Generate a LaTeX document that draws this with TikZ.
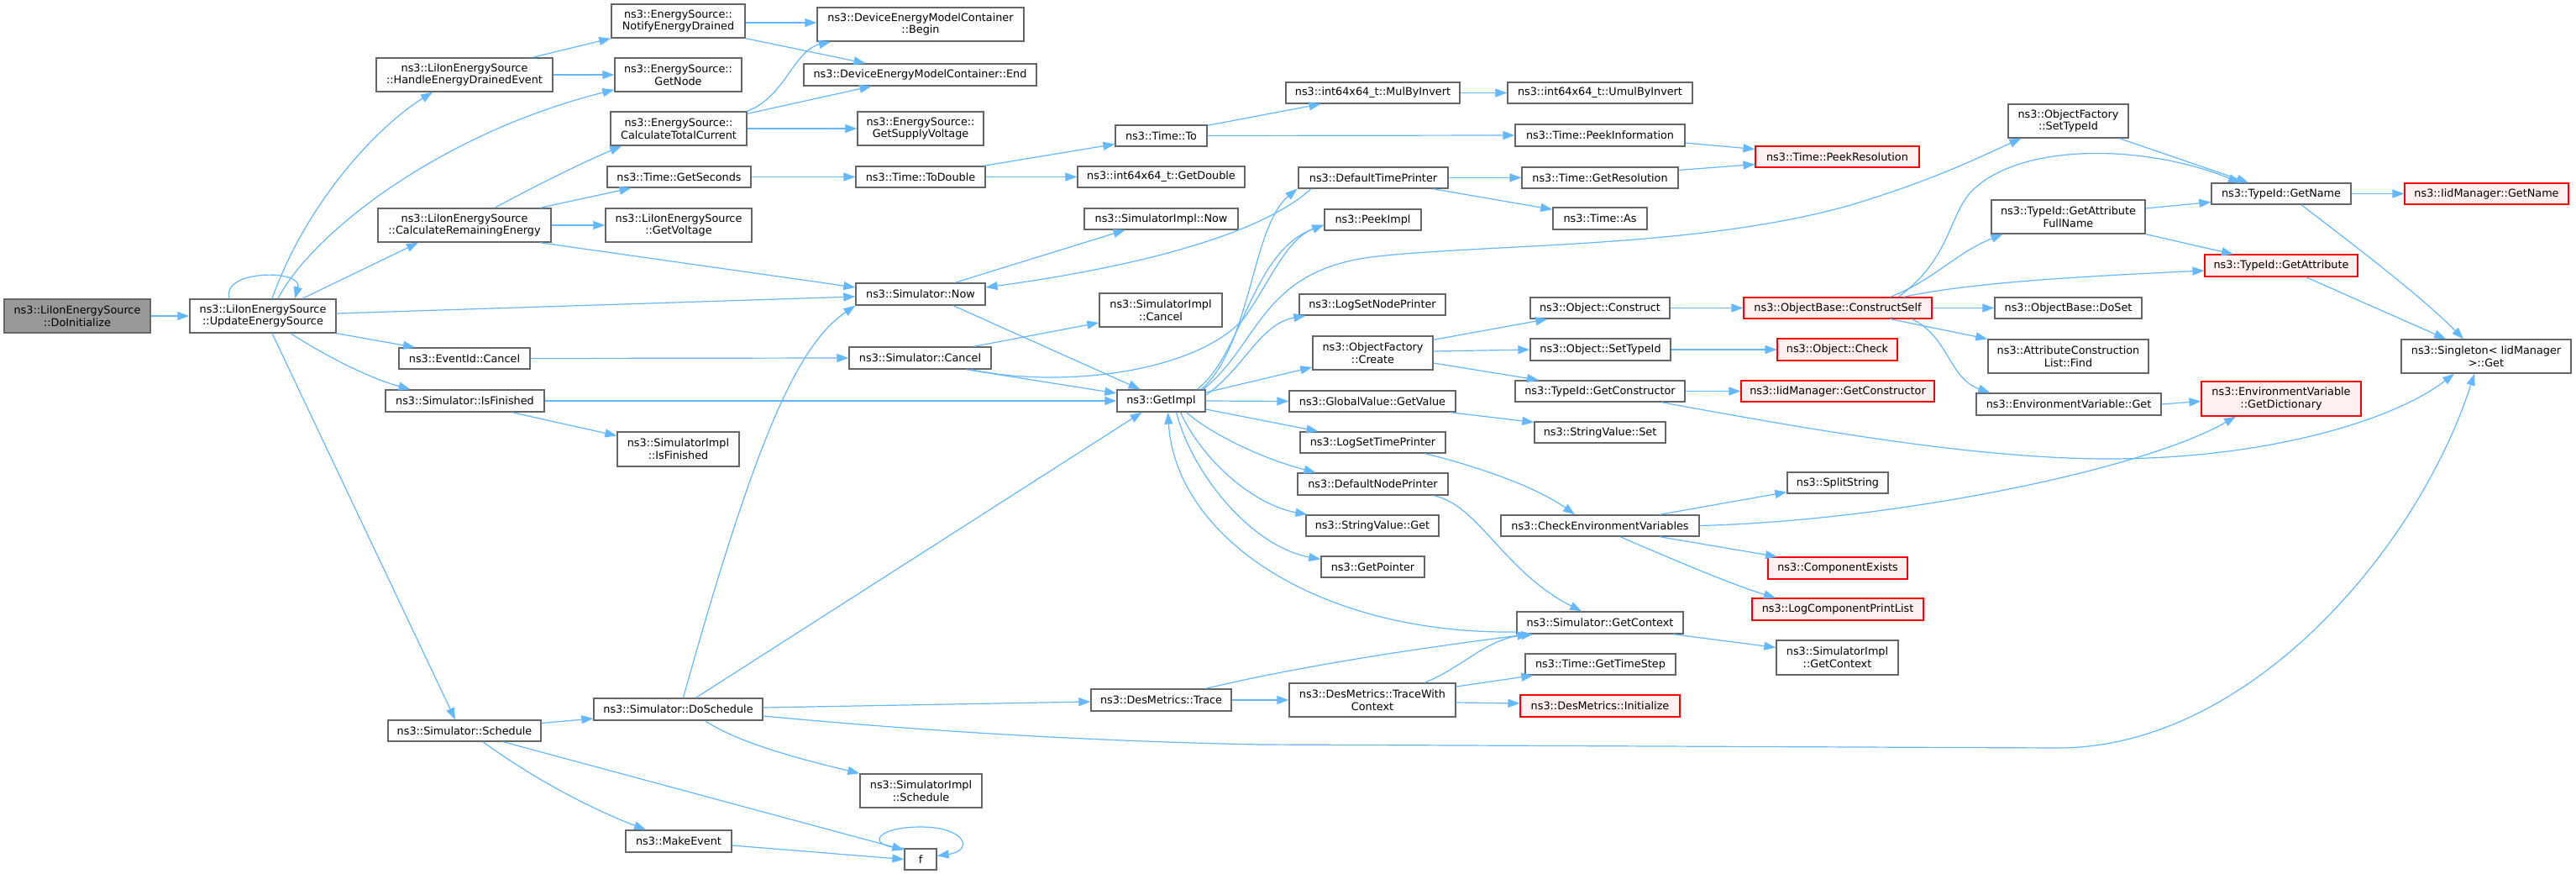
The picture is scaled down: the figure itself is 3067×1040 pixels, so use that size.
\documentclass[tikz,border=0pt]{standalone}
\usepackage{fontspec}
\setmainfont{DejaVu Sans}
\usetikzlibrary{arrows.meta}
\definecolor{edgeblue}{HTML}{63B8FF}
\definecolor{nodeline}{HTML}{666666}
\definecolor{redline}{HTML}{FF0000}
\definecolor{redfill}{HTML}{FFF0F0}
\definecolor{grayfill}{HTML}{999999}
\tikzset{
  box/.style={draw=nodeline,fill=white,line width=1.4pt,inner sep=0pt,align=center,
    font=\fontsize{12.8pt}{14.7pt}\selectfont},
  redbox/.style={draw=redline,fill=redfill,line width=1.1pt},
  startbox/.style={fill=grayfill},
  cl/.style={draw=edgeblue,line width=1.2pt,-{Triangle[length=14pt,width=10pt]}}
}
\newcommand\bx[7][]{\node[box,#1,minimum width=#5pt-#3pt,minimum height=#6pt-#4pt] (#2) at ({(#3+#5)/2},{(#4+#6)/2}) {#7};}
\begin{document}
\begin{tikzpicture}[x=1pt,y=-1pt]
\useasboundingbox (0,0) rectangle (3067,1040);
\fill[white] (0,0) rectangle (3067,1040);
% nodes
\bx[startbox]{doinit}{5}{356}{179}{396}{ns3::LiIonEnergySource\\::DoInitialize}
\bx{upd}{226}{356}{400}{396}{ns3::LiIonEnergySource\\::UpdateEnergySource}
\bx{handle}{448}{69}{658}{109}{ns3::LiIonEnergySource\\::HandleEnergyDrainedEvent}
\bx{calcrem}{450}{248}{656}{288}{ns3::LiIonEnergySource\\::CalculateRemainingEnergy}
\bx{evcancel}{475}{414}{631}{439}{ns3::EventId::Cancel}
\bx{isfin}{459}{464}{648}{490}{ns3::Simulator::IsFinished}
\bx{sched}{462}{857}{644}{882}{ns3::Simulator::Schedule}
\bx{notify}{728}{5}{887}{45}{ns3::EnergySource::\\NotifyEnergyDrained}
\bx{getnode}{732}{69}{883}{109}{ns3::EnergySource::\\GetNode}
\bx{calctot}{727}{133}{889}{173}{ns3::EnergySource::\\CalculateTotalCurrent}
\bx{getsec}{723}{198}{894}{223}{ns3::Time::GetSeconds}
\bx{getvolt}{721}{248}{895}{288}{ns3::LiIonEnergySource\\::GetVoltage}
\bx{simnow}{1019}{337}{1173}{363}{ns3::Simulator::Now}
\bx{simcancel}{1011}{413}{1180}{439}{ns3::Simulator::Cancel}
\bx{implisfin}{735}{514}{880}{555}{ns3::SimulatorImpl\\::IsFinished}
\bx{dosched}{707}{831}{908}{857}{ns3::Simulator::DoSchedule}
\bx{makeev}{745}{988}{871}{1014}{ns3::MakeEvent}
\bx{fnode}{1077}{1010}{1115}{1035}{f}
\bx{implsched}{1024}{921}{1169}{961}{ns3::SimulatorImpl\\::Schedule}
\bx{demcbegin}{973}{9}{1219}{49}{ns3::DeviceEnergyModelContainer\\::Begin}
\bx{demcend}{957}{76}{1234}{102}{ns3::DeviceEnergyModelContainer::End}
\bx{supvolt}{1021}{133}{1171}{173}{ns3::EnergySource::\\GetSupplyVoltage}
\bx{todouble}{1019}{198}{1173}{223}{ns3::Time::ToDouble}
\bx{timeto}{1328}{149}{1437}{174}{ns3::Time::To}
\bx{getdouble}{1283}{198}{1482}{223}{ns3::int64x64\_t::GetDouble}
\bx{implnow}{1291}{248}{1474}{273}{ns3::SimulatorImpl::Now}
\bx{implcancel}{1309}{349}{1455}{389}{ns3::SimulatorImpl\\::Cancel}
\bx{getimpl}{1330}{464}{1435}{490}{ns3::GetImpl}
\bx{trace}{1299}{820}{1466}{846}{ns3::DesMetrics::Trace}
\bx{mulinv}{1531}{98}{1738}{123}{ns3::int64x64\_t::MulByInvert}
\bx{umulinv}{1795}{98}{2015}{123}{ns3::int64x64\_t::UmulByInvert}
\bx{peekinfo}{1804}{148}{2006}{174}{ns3::Time::PeekInformation}
\bx[redbox]{peekres}{2090}{174}{2285}{199}{ns3::Time::PeekResolution}
\bx{deftp}{1546}{199}{1724}{224}{ns3::DefaultTimePrinter}
\bx{getres}{1812}{199}{1998}{224}{ns3::Time::GetResolution}
\bx{timeas}{1849}{247}{1961}{273}{ns3::Time::As}
\bx{peekimpl}{1577}{249}{1692}{274}{ns3::PeekImpl}
\bx{logsnp}{1547}{350}{1721}{375}{ns3::LogSetNodePrinter}
\bx{ofcreate}{1563}{400}{1706}{440}{ns3::ObjectFactory\\::Create}
\bx{gvget}{1535}{465}{1733}{490}{ns3::GlobalValue::GetValue}
\bx{logstp}{1548}{514}{1721}{539}{ns3::LogSetTimePrinter}
\bx{defnp}{1545}{563}{1724}{589}{ns3::DefaultNodePrinter}
\bx{svget}{1555}{613}{1713}{638}{ns3::StringValue::Get}
\bx{getptr}{1573}{662}{1696}{687}{ns3::GetPointer}
\bx{objconstruct}{1822}{354}{1988}{379}{ns3::Object::Construct}
\bx{objsettid}{1822}{403}{1989}{429}{ns3::Object::SetTypeId}
\bx{getctor}{1804}{453}{2006}{478}{ns3::TypeId::GetConstructor}
\bx{svset}{1827}{502}{1983}{527}{ns3::StringValue::Set}
\bx{checkenv}{1787}{613}{2023}{638}{ns3::CheckEnvironmentVariables}
\bx[redbox]{constructself}{2076}{354}{2300}{379}{ns3::ObjectBase::ConstructSelf}
\bx[redbox]{objcheck}{2116}{403}{2259}{429}{ns3::Object::Check}
\bx[redbox]{iidgetctor}{2073}{453}{2303}{478}{ns3::IidManager::GetConstructor}
\bx{splitstr}{2128}{562}{2248}{587}{ns3::SplitString}
\bx[redbox]{compexists}{2105}{663}{2271}{689}{ns3::ComponentExists}
\bx[redbox]{logcpl}{2086}{712}{2290}{738}{ns3::LogComponentPrintList}
\bx{simgetctx}{1806}{728}{2004}{754}{ns3::Simulator::GetContext}
\bx{implgetctx}{2115}{762}{2260}{803}{ns3::SimulatorImpl\\::GetContext}
\bx{timestep}{1816}{778}{1995}{803}{ns3::Time::GetTimeStep}
\bx{tracectx}{1535}{813}{1733}{853}{ns3::DesMetrics::TraceWith\\Context}
\bx[redbox]{desinit}{1810}{827}{2000}{853}{ns3::DesMetrics::Initialize}
\bx{ofsettid}{2391}{124}{2534}{164}{ns3::ObjectFactory\\::SetTypeId}
\bx{tidgetname}{2633}{218}{2799}{243}{ns3::TypeId::GetName}
\bx[redbox]{iidgetname}{2863}{218}{3058}{243}{ns3::IidManager::GetName}
\bx{getattrfull}{2371}{238}{2554}{278}{ns3::TypeId::GetAttribute\\FullName}
\bx[redbox]{getattr}{2625}{303}{2807}{329}{ns3::TypeId::GetAttribute}
\bx{doset}{2375}{354}{2550}{379}{ns3::ObjectBase::DoSet}
\bx{aclfind}{2367}{404}{2558}{444}{ns3::AttributeConstruction\\List::Find}
\bx{envget}{2353}{468}{2573}{494}{ns3::EnvironmentVariable::Get}
\bx[redbox]{getdict}{2621}{454}{2811}{495}{ns3::EnvironmentVariable\\::GetDictionary}
\bx{singleton}{2859}{404}{3061}{444}{ns3::Singleton< IidManager\\ >::Get}
% edges
\draw[cl] (doinit.east) -- (upd.west);
\draw[cl] ([xshift=-40]upd.north) .. controls +(-10,-35) and +(10,-35) .. ([xshift=38]upd.north);
\draw[cl] ([xshift=11]upd.north) .. controls (365,240) and (450,150) .. ([xshift=-38]handle.south);
\draw[cl] ([xshift=18]upd.north) .. controls (370,280) and (520,160) .. ([yshift=3]getnode.south west);
\draw[cl] ([xshift=47]upd.north) -- ([xshift=-55]calcrem.south);
\draw[cl] ([yshift=3]upd.east) -- ([yshift=-3]simnow.west);
\draw[cl] (upd.south east) -- ([xshift=-59]evcancel.north);
\draw[cl] ([xshift=33]upd.south) .. controls (390,425) and (440,450) .. ([xshift=-65]isfin.north);
\draw[cl] ([xshift=11]upd.south) -- ([xshift=-11]sched.north);
\draw[cl] ([xshift=81]handle.north) -- (notify.south west);
\draw[cl] (handle.east) -- (getnode.west);
\draw[cl] ([xshift=36]calcrem.north) .. controls (630,225) and (690,195) .. ([xshift=-68]calctot.south);
\draw[cl] ([xshift=90]calcrem.north) -- ([xshift=-57]getsec.south);
\draw[cl] (calcrem.east) -- (getvolt.west);
\draw[cl] ([xshift=90]calcrem.south) -- ([yshift=8]simnow.west);
\draw[cl] ([yshift=-2]notify.east) -- ([yshift=2]demcbegin.west);
\draw[cl] (notify.south east) -- ([xshift=-65]demcend.north);
\draw[cl] (calctot.north east) .. controls (935,115) and (945,60) .. ([xshift=-107]demcbegin.south);
\draw[cl] ([yshift=-3]calctot.north east) -- ([xshift=-58]demcend.south);
\draw[cl] (calctot.east) -- (supvolt.west);
\draw[cl] (getsec.east) -- (todouble.west);
\draw[cl] ([xshift=75]todouble.north) -- ([yshift=-10]timeto.west);
\draw[cl] (todouble.east) -- (getdouble.west);
\draw[cl] ([yshift=-1]timeto.north east) -- ([xshift=-62]mulinv.south);
\draw[cl] (timeto.east) -- (peekinfo.west);
\draw[cl] (mulinv.east) -- (umulinv.west);
\draw[cl] ([yshift=-9]peekinfo.east) -- ([yshift=9]peekres.west);
\draw[cl] ([yshift=9]getres.east) -- ([yshift=-9]peekres.west);
\draw[cl] (deftp.east) -- (getres.west);
\draw[cl] ([xshift=71]deftp.south) -- ([yshift=-3]timeas.north west);
\draw[cl] ([xshift=-74]deftp.south) .. controls (1500,280) and (1350,318) .. ([yshift=8]simnow.east);
\draw[cl] ([xshift=41]simnow.north) -- ([xshift=-43]implnow.south);
\draw[cl] ([xshift=39]simnow.south) -- ([xshift=-25]getimpl.north);
\draw[cl] (evcancel.east) -- (simcancel.west);
\draw[cl] ([xshift=64]simcancel.north) -- ([yshift=-15]implcancel.west);
\draw[cl] ([xshift=55]simcancel.south) -- ([yshift=9]getimpl.west);
\draw[cl] ([xshift=60]simcancel.south) .. controls (1260,462) and (1420,445) .. (1480,380) .. controls (1510,340) and (1530,285) .. ([yshift=-6]peekimpl.west);
\draw[cl] (isfin.east) -- (getimpl.west);
\draw[cl] ([xshift=56]isfin.south) -- ([yshift=16]implisfin.west);
\draw[cl] ([yshift=9]sched.east) -- ([yshift=-11]dosched.west);
\draw[cl] ([xshift=22]sched.south) .. controls (640,930) and (710,965) .. ([xshift=-39]makeev.north);
\draw[cl] ([xshift=46]sched.south) -- ([yshift=-2]fnode.north west);
\draw[cl] ([yshift=-5]makeev.east) -- (fnode.west);
\draw[cl] (fnode.north west) .. controls (1030,1008) and (1040,984) .. (1096,984) .. controls (1150,984) and (1160,1012) .. ([yshift=4]fnode.east);
\draw[cl] ([xshift=6]dosched.north) .. controls (900,520) and (950,410) .. (simnow.south west);
\draw[cl] ([xshift=21]dosched.north) -- ([xshift=-23]getimpl.south);
\draw[cl] ([yshift=2]dosched.east) -- ([yshift=-2]trace.west);
\draw[cl] ([xshift=32]dosched.south) .. controls (880,885) and (960,905) .. (implsched.north west);
\draw[cl] ([yshift=-8]dosched.east) .. controls (1100,870) and (1300,882) .. (1500,886) -- (2450,890) .. controls (2680,890) and (2880,650) .. ([xshift=-14]singleton.south);
\draw[cl] ([xshift=53]trace.north) .. controls (1560,790) and (1700,770) .. ([xshift=15]simgetctx.south west);
\draw[cl] (trace.east) -- (tracectx.west);
\draw[cl] ([xshift=62]tracectx.north) .. controls (1740,795) and (1770,760) .. ([xshift=20]simgetctx.south west);
\draw[cl] ([yshift=16]tracectx.east) -- ([xshift=10]timestep.south west);
\draw[cl] ([yshift=-3]tracectx.east) -- ([yshift=3]desinit.west);
\draw[cl] ([xshift=87]simgetctx.south) -- ([yshift=12]implgetctx.west);
\draw[cl] ([yshift=-11]simgetctx.west) .. controls (1570,755) and (1400,640) .. ([xshift=8]getimpl.south);
\draw[cl] ([xshift=72]defnp.south) .. controls (1760,600) and (1790,680) .. ([xshift=-22]simgetctx.north);
\draw[cl] (getimpl.east) -- (gvget.west);
\draw[cl] ([yshift=10]getimpl.east) -- ([yshift=-17]ofcreate.west);
\draw[cl] ([yshift=-10]getimpl.east) -- ([xshift=-65]logstp.north);
\draw[cl] ([xshift=30]getimpl.south) .. controls (1440,515) and (1500,545) .. ([xshift=-68]defnp.north);
\draw[cl] ([xshift=23]getimpl.south) .. controls (1430,545) and (1490,600) .. ([xshift=2]svget.north west);
\draw[cl] ([xshift=18]getimpl.south) .. controls (1420,565) and (1490,650) .. ([yshift=9]getptr.west);
\draw[cl] ([yshift=7]getimpl.east) .. controls (1480,440) and (1500,385) .. ([xshift=8]logsnp.south west);
\draw[cl] ([xshift=43]getimpl.north) .. controls (1480,420) and (1490,300) .. ([yshift=-6]peekimpl.west);
\draw[cl] ([xshift=48]getimpl.north) .. controls (1490,410) and (1490,270) .. ([xshift=-1]deftp.south west);
\draw[cl] ([xshift=50]getimpl.north) .. controls (1500,410) and (1500,320) .. (1640,305) .. controls (1780,290) and (2020,295) .. (2200,245) .. controls (2300,215) and (2350,190) .. ([xshift=-56]ofsettid.south);
\draw[cl] ([yshift=-5]ofcreate.north east) -- ([xshift=21]objconstruct.south west);
\draw[cl] ([yshift=2]ofcreate.east) -- (objsettid.west);
\draw[cl] ([yshift=-12]ofcreate.east) -- ([xshift=-73]getctor.north);
\draw[cl] ([xshift=-7]gvget.south east) -- ([yshift=12]svset.west);
\draw[cl] ([xshift=62]logstp.south) .. controls (1760,555) and (1830,580) .. ([xshift=-30]checkenv.north);
\draw[cl] (objconstruct.east) -- (constructself.west);
\draw[cl] (objsettid.east) -- (objcheck.west);
\draw[cl] (getctor.east) -- (iidgetctor.west);
\draw[cl] ([xshift=73]getctor.south) .. controls (2150,510) and (2350,546) .. (2510,546) .. controls (2700,546) and (2850,500) .. ([xshift=-38]singleton.south);
\draw[cl] ([xshift=71]checkenv.north) -- ([yshift=-11]splitstr.west);
\draw[cl] (checkenv.east) .. controls (2250,620) and (2550,560) .. ([xshift=-54]getdict.south);
\draw[cl] ([xshift=71]checkenv.south) -- ([xshift=-72]compexists.north);
\draw[cl] ([xshift=24]checkenv.south) .. controls (1990,665) and (2060,695) .. ([xshift=-74]logcpl.north);
\draw[cl] ([xshift=72]constructself.north) .. controls (2320,310) and (2320,260) .. (2345,230) .. controls (2400,170) and (2550,170) .. ([xshift=-49]tidgetname.north);
\draw[cl] ([xshift=62]constructself.north) .. controls (2300,335) and (2330,300) .. ([xshift=-78]getattrfull.south);
\draw[cl] ([xshift=78]constructself.north) .. controls (2350,335) and (2500,328) .. ([yshift=-6]getattr.west);
\draw[cl] (constructself.east) -- (doset.west);
\draw[cl] ([xshift=62]constructself.south) -- (aclfind.north west);
\draw[cl] ([xshift=88]constructself.south) .. controls (2320,400) and (2320,450) .. ([xshift=17]envget.north west);
\draw[cl] ([xshift=61]ofsettid.south) -- ([xshift=-39]tidgetname.north);
\draw[cl] (tidgetname.east) -- (iidgetname.west);
\draw[cl] ([xshift=24]tidgetname.south) .. controls (2800,290) and (2880,350) .. ([xshift=-27]singleton.north);
\draw[cl] ([yshift=10]getattrfull.east) -- ([yshift=-10]tidgetname.west);
\draw[cl] (getattrfull.south east) -- ([xshift=-57]getattr.north);
\draw[cl] ([xshift=29]getattr.south) -- ([xshift=-48]singleton.north);
\draw[cl] (envget.east) -- ([yshift=-3]getdict.west);
\end{tikzpicture}
\end{document}
